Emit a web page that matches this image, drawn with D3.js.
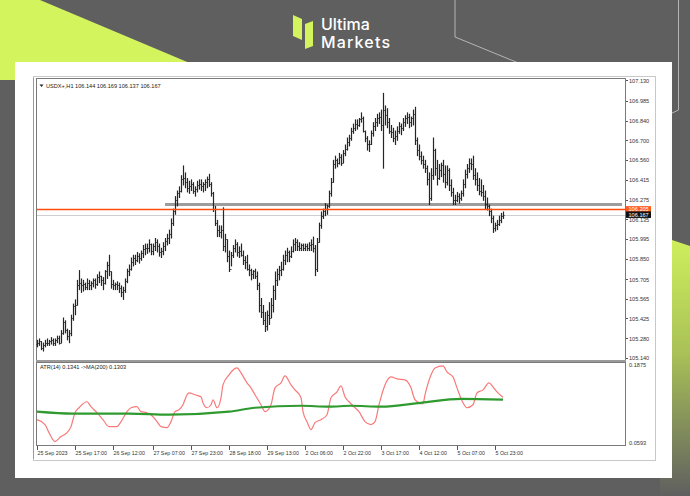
<!DOCTYPE html>
<html><head><meta charset="utf-8">
<script src="https://cdn.jsdelivr.net/npm/d3@7"></script>
<style>
html,body{margin:0;padding:0;background:#5f5f5f;}
svg{display:block;}
</style></head><body>
<svg id="c" width="690" height="496"></svg>
<script>
// ---- data: USDX H1 bars (open of each bar = previous close) ----
const firstOpen = 105.24;
const highs = [105.27,105.28,105.26,105.25,105.27,105.28,105.27,105.29,105.28,105.28,105.30,105.30,105.34,105.43,105.41,105.35,105.34,105.45,105.53,105.56,
105.70,105.77,105.71,105.70,105.68,105.71,105.70,105.69,105.71,105.71,105.74,105.76,105.73,105.72,105.77,105.83,105.88,105.76,105.70,105.68,
105.69,105.68,105.66,105.65,105.71,105.78,105.81,105.86,105.88,105.88,105.90,105.89,105.91,105.95,105.96,105.96,105.99,105.96,105.96,106.00,
105.99,105.96,105.93,105.97,106.00,106.03,106.06,106.14,106.21,106.30,106.34,106.37,106.45,106.52,106.47,106.43,106.41,106.42,106.40,106.37,
106.41,106.42,106.42,106.40,106.42,106.44,106.46,106.40,106.33,106.23,106.13,106.09,106.09,106.22,106.03,105.99,105.91,105.90,105.95,105.99,
105.97,105.94,105.96,105.91,105.87,105.88,105.81,105.78,105.77,105.78,105.76,105.68,105.57,105.52,105.47,105.48,105.54,105.57,105.66,105.76,
105.78,105.80,105.83,105.88,105.91,105.93,105.91,105.94,105.99,106.00,105.99,105.97,105.96,105.96,105.96,105.96,105.97,105.99,106.01,105.95,
106.00,106.11,106.19,106.21,106.25,106.24,106.34,106.43,106.56,106.59,106.57,106.61,106.60,106.63,106.67,106.72,106.74,106.79,106.82,106.85,
106.85,106.86,106.90,106.87,106.77,106.73,106.70,106.77,106.83,106.86,106.89,106.90,106.92,107.04,106.95,106.93,106.86,106.81,106.79,106.77,
106.80,106.83,106.82,106.86,106.88,106.90,106.89,106.87,106.92,106.94,106.72,106.67,106.62,106.59,106.56,106.52,106.47,106.50,106.72,106.64,
106.56,106.53,106.54,106.56,106.52,106.52,106.50,106.42,106.36,106.31,106.33,106.32,106.34,106.42,106.49,106.53,106.57,106.57,106.59,106.50,
106.47,106.43,106.42,106.38,106.34,106.29,106.24,106.21,106.16,106.11,106.13,106.16,106.18,106.19];
const lows = [105.22,105.23,105.20,105.19,105.22,105.23,105.23,105.24,105.23,105.23,105.25,105.24,105.25,105.31,105.32,105.27,105.25,105.30,105.41,105.45,
105.52,105.63,105.61,105.62,105.63,105.63,105.63,105.63,105.65,105.64,105.66,105.68,105.66,105.63,105.67,105.71,105.73,105.64,105.63,105.63,
105.63,105.61,105.58,105.56,105.61,105.68,105.73,105.77,105.80,105.81,105.83,105.82,105.84,105.86,105.88,105.89,105.90,105.88,105.88,105.91,
105.90,105.87,105.86,105.88,105.91,105.95,105.96,106.00,106.09,106.17,106.23,106.29,106.33,106.38,106.36,106.33,106.32,106.34,106.32,106.30,
106.33,106.35,106.34,106.33,106.34,106.36,106.37,106.30,106.19,106.09,106.01,106.01,106.00,105.91,105.90,105.83,105.76,105.80,105.86,105.90,
105.87,105.86,105.87,105.81,105.78,105.77,105.73,105.70,105.71,105.71,105.63,105.47,105.43,105.38,105.33,105.34,105.38,105.43,105.47,105.56,
105.66,105.70,105.73,105.77,105.81,105.83,105.83,105.86,105.90,105.91,105.91,105.91,105.91,105.91,105.91,105.91,105.91,105.91,105.90,105.73,
105.76,105.97,106.07,106.14,106.16,106.17,106.22,106.30,106.40,106.50,106.51,106.53,106.52,106.54,106.59,106.63,106.66,106.70,106.75,106.77,
106.78,106.80,106.83,106.76,106.69,106.63,106.62,106.67,106.73,106.77,106.80,106.82,106.77,106.50,106.81,106.79,106.75,106.72,106.69,106.67,
106.70,106.75,106.74,106.77,106.80,106.82,106.79,106.80,106.81,106.67,106.59,106.56,106.53,106.50,106.47,106.38,106.24,106.27,106.42,106.45,
106.38,106.42,106.44,106.40,106.36,106.38,106.34,106.30,106.24,106.24,106.26,106.25,106.27,106.30,106.36,106.43,106.47,106.49,106.42,106.38,
106.34,106.31,106.30,106.27,106.21,106.20,106.16,106.11,106.04,106.05,106.06,106.09,106.11,106.14];
const closes = [105.25,105.26,105.21,105.23,105.25,105.25,105.26,105.27,105.25,105.27,105.28,105.25,105.32,105.40,105.34,105.30,105.32,105.43,105.51,105.52,
105.66,105.68,105.66,105.67,105.65,105.68,105.66,105.68,105.70,105.67,105.72,105.73,105.70,105.68,105.76,105.81,105.76,105.67,105.66,105.67,
105.66,105.64,105.61,105.63,105.69,105.76,105.78,105.83,105.86,105.84,105.87,105.86,105.89,105.92,105.93,105.93,105.96,105.91,105.94,105.97,
105.94,105.90,105.91,105.94,105.98,106.00,106.03,106.11,106.19,106.27,106.32,106.34,106.42,106.43,106.40,106.36,106.37,106.39,106.34,106.35,
106.38,106.39,106.37,106.39,106.40,106.42,106.39,106.32,106.21,106.11,106.06,106.04,106.06,105.94,105.99,105.87,105.78,105.88,105.93,105.96,
105.90,105.91,105.88,105.84,105.83,105.78,105.77,105.74,105.76,105.73,105.66,105.52,105.47,105.41,105.37,105.45,105.43,105.52,105.63,105.70,
105.74,105.77,105.78,105.84,105.88,105.90,105.87,105.91,105.96,105.97,105.94,105.93,105.95,105.93,105.94,105.93,105.95,105.96,105.93,105.78,
105.97,106.09,106.16,106.19,106.21,106.23,106.32,106.40,106.53,106.56,106.54,106.58,106.54,106.61,106.64,106.69,106.72,106.77,106.79,106.82,
106.81,106.85,106.86,106.77,106.72,106.67,106.67,106.75,106.80,106.83,106.86,106.87,106.81,106.92,106.88,106.83,106.77,106.76,106.72,106.73,
106.77,106.80,106.79,106.83,106.86,106.87,106.83,106.86,106.89,106.70,106.63,106.59,106.56,106.53,106.50,106.42,106.29,106.45,106.63,106.50,
106.43,106.49,106.52,106.46,106.40,106.49,106.38,106.33,106.27,106.27,106.30,106.29,106.32,106.39,106.46,106.50,106.54,106.53,106.45,106.42,
106.38,106.34,106.33,106.30,106.24,106.23,106.19,106.14,106.07,106.09,106.10,106.13,106.16,106.167];

const priceTicks = [107.130,106.985,106.840,106.700,106.560,106.415,106.275,106.135,105.995,105.850,105.705,105.565,105.425,105.280,105.140];
const timeLabels = ["25 Sep 2023","25 Sep 17:00","26 Sep 12:00","27 Sep 07:00","27 Sep 23:00","28 Sep 18:00","29 Sep 13:00","2 Oct 06:00","2 Oct 22:00","3 Oct 17:00","4 Oct 12:00","5 Oct 07:00","5 Oct 23:00"];
const timeLabelBars = [0,19,38,58,77,96,115,134,153,172,191,210,229];

// horizontal levels
const supportLevel = 106.240;
const askLevel = 106.205;
const bidLevel = 106.167;
const supportStartBar = 64;

// ATR(14) and its MA(200), read at selected bars
const atrBars = [0,4,6,9,12,15,17,19,21,25,27,30,33,36,40,42,45,47,50,52,55,57,60,62,65,67,69,71,73,75,76,79,82,83,85,87,88,90,92,93,96,98,100,102,105,107,109,112,114,117,119,122,124,127,129,132,133,135,137,139,142,145,147,150,152,154,156,159,161,164,167,169,171,174,177,180,184,187,189,193,194,197,199,203,205,208,210,213,215,218,220,223,226,228,230,233];
const atrValues = [0.0971,0.0889,0.0757,0.0609,0.0692,0.0757,0.0856,0.1086,0.1168,0.1267,0.1185,0.1086,0.0971,0.0856,0.0856,0.0938,0.1103,0.1168,0.1185,0.1103,0.1086,0.1053,0.0938,0.0856,0.0840,0.0938,0.1103,0.1135,0.1218,0.1382,0.1415,0.1382,0.1349,0.1250,0.1168,0.1218,0.1300,0.1168,0.1333,0.1546,0.1711,0.1793,0.1826,0.1744,0.1579,0.1497,0.1382,0.1218,0.1103,0.1218,0.1497,0.1579,0.1694,0.1546,0.1464,0.1333,0.1103,0.0938,0.0807,0.0921,0.0971,0.1053,0.1333,0.1431,0.1530,0.1349,0.1267,0.1168,0.1103,0.0938,0.0889,0.0938,0.1218,0.1546,0.1678,0.1645,0.1628,0.1497,0.1300,0.1234,0.1382,0.1711,0.1826,0.1859,0.1760,0.1678,0.1497,0.1250,0.1168,0.1218,0.1415,0.1464,0.1579,0.1513,0.1431,0.1341];
const maBars = [0,18,46,66,96,109,132,146,157,172,192,212,233];
const maValues = [0.1103,0.1070,0.1070,0.1053,0.1103,0.1168,0.1201,0.1185,0.1201,0.1185,0.1250,0.1316,0.1303];
const atrRange = [0.0593, 0.1875];

// ---- drawing ----
const svg = d3.select("#c");
const lime = "#d3f45c";
const font = "'Liberation Sans', Arial, sans-serif";
const small = 5.6;

// background decoration
const defs = svg.append("defs");
const g1 = defs.append("linearGradient").attr("id","rg").attr("x1",0).attr("y1",0).attr("x2",0).attr("y2",1);
g1.append("stop").attr("offset","0%").attr("stop-color","#d0f05c");
g1.append("stop").attr("offset","45%").attr("stop-color","#a9c157");
g1.append("stop").attr("offset","100%").attr("stop-color","#5f5f5f");
svg.append("rect").attr("width",690).attr("height",496).attr("fill","#5f5f5f");
svg.append("polygon").attr("points","0,0 40,0 230,80 0,80").attr("fill",lime);
svg.append("polygon").attr("points","660,236 690,246 690,496 660,496").attr("fill","url(#rg)");
svg.append("path").attr("d","M455,0 V37 L560,80").attr("fill","none").attr("stroke","#b5b5b5").attr("stroke-width",1);
svg.append("path").attr("d","M678.5,0 V110 L666,116").attr("fill","none").attr("stroke","#b5b5b5").attr("stroke-width",1);

// logo
svg.append("polygon").attr("points","293,15 302,19 302,40 293,36").attr("fill",lime);
svg.append("polygon").attr("points","305,24 313,21 313,46 305,49").attr("fill",lime);
svg.append("text").attr("x",321).attr("y",30).attr("fill","#fff").attr("font-family","Inter, Roboto, sans-serif").attr("font-weight",500).attr("font-size",16).text("Ultima");
svg.append("text").attr("x",321).attr("y",47.5).attr("fill","#fff").attr("font-family","Inter, Roboto, sans-serif").attr("font-weight",500).attr("font-size",16).attr("textLength",69).text("Markets");

// white card
svg.append("rect").attr("x",15).attr("y",62).attr("width",657).attr("height",416).attr("fill","#fff");

// chart window frame
const frame = {l:33, t:76, r:655, b:460};
svg.append("rect").attr("x",frame.l+0.5).attr("y",frame.t+0.5).attr("width",frame.r-frame.l).attr("height",frame.b-frame.t).attr("fill","#fff").attr("stroke","#c8c8c8");

const plotL = 36, plotR = 625;
const mainT = 78, mainB = 360, subT = 362, subB = 445;

// scales
const x = d3.scaleLinear().domain([0, 233]).range([37, 503]);
const y = d3.scaleLinear().domain([105.140, 107.130]).range([358, 80.3]);
const ya = d3.scaleLinear().domain(atrRange).range([442.5, 365]);

// panel borders
svg.append("rect").attr("x",plotL+0.5).attr("y",mainT+0.5).attr("width",plotR-plotL).attr("height",mainB-mainT).attr("fill","none").attr("stroke","#7a7a7a");
svg.append("rect").attr("x",plotL+0.5).attr("y",subT+0.5).attr("width",plotR-plotL).attr("height",subB-subT).attr("fill","none").attr("stroke","#7a7a7a");
svg.append("line").attr("x1",plotL).attr("x2",plotR+1).attr("y1",361).attr("y2",361).attr("stroke","#9a9a9a").attr("stroke-width",2);
svg.append("line").attr("x1",plotL-2.5).attr("x2",plotL-2.5).attr("y1",mainT).attr("y2",subB+14).attr("stroke","#9a9a9a");

// header texts
svg.append("path").attr("d","M39.5,84.5 h4 l-2,2.5 z").attr("fill","#222");
svg.append("text").attr("x",46).attr("y",87.5).attr("font-family",font).attr("font-size",small).attr("fill","#222")
  .text("USDX+,H1  106.144 106.169 106.137 106.167");
svg.append("text").attr("x",40).attr("y",369).attr("font-family",font).attr("font-size",small).attr("fill","#222")
  .text("ATR(14) 0.1341  ->MA(200) 0.1303");

// bid line and levels
svg.append("line").attr("x1",plotL+1).attr("x2",plotR).attr("y1",Math.round(y(bidLevel))+0.5).attr("y2",Math.round(y(bidLevel))+0.5).attr("stroke","#cfcfcf");
svg.append("line").attr("x1",x(supportStartBar)).attr("x2",plotR-3).attr("y1",y(supportLevel)).attr("y2",y(supportLevel)).attr("stroke","#9d9d9d").attr("stroke-width",3);

// OHLC bars
const bars = closes.map((c,i)=>({i, o: i===0 ? firstOpen : closes[i-1], h: highs[i], l: lows[i], c}));
const gb = svg.append("g").attr("stroke","#262626").attr("stroke-width",1.2);
bars.forEach(b=>{
  const bx = Math.round(x(b.i)) + 0.5;
  gb.append("line").attr("x1",bx).attr("x2",bx).attr("y1",y(b.h)).attr("y2",y(b.l)+0.5);
  gb.append("line").attr("x1",bx-1).attr("x2",bx).attr("y1",Math.round(y(b.o))+0.5).attr("y2",Math.round(y(b.o))+0.5).attr("stroke-width",1);
  gb.append("line").attr("x1",bx).attr("x2",bx+1).attr("y1",Math.round(y(b.c))+0.5).attr("y2",Math.round(y(b.c))+0.5).attr("stroke-width",1);
});

// ask line drawn over the bars
svg.append("line").attr("x1",plotL+1).attr("x2",plotR).attr("y1",Math.round(y(askLevel))+0.5).attr("y2",Math.round(y(askLevel))+0.5).attr("stroke","#ff4d0d").attr("stroke-width",1.3);

// price axis
const ax = svg.append("g").attr("font-family",font).attr("font-size",small).attr("fill","#333");
priceTicks.forEach(p=>{
  const py = y(p);
  svg.append("line").attr("x1",plotR+1).attr("x2",plotR+3).attr("y1",Math.round(py)+0.5).attr("y2",Math.round(py)+0.5).attr("stroke","#555");
  ax.append("text").attr("x",629).attr("y",py+2.4).text(p.toFixed(3));
});
// price tags
const tag = (p, fill, h) => {
  const py = y(p);
  svg.append("rect").attr("x",626).attr("y",py-h/2).attr("width",25).attr("height",h).attr("fill",fill);
  svg.append("text").attr("x",628.5).attr("y",py+2).attr("font-family",font).attr("font-size",small).attr("fill","#fff").text(p.toFixed(3));
};
tag(askLevel, "#ff5a1f", 6.5);
tag(bidLevel, "#111", 6.5);

// ATR panel
const lineAtr = d3.line().x((d,k)=>x(atrBars[k])).y(d=>ya(d)).curve(d3.curveMonotoneX);
const lineMa = d3.line().x((d,k)=>x(maBars[k])).y(d=>ya(d)).curve(d3.curveMonotoneX);
svg.append("path").attr("d",lineAtr(atrValues)).attr("fill","none").attr("stroke","#f77a7a").attr("stroke-width",1.2);
svg.append("path").attr("d",lineMa(maValues)).attr("fill","none").attr("stroke","#2f9a2f").attr("stroke-width",2.2);
ax.append("text").attr("x",629).attr("y",ya(atrRange[1])+2).text(atrRange[1].toFixed(4));
ax.append("text").attr("x",629).attr("y",ya(atrRange[0])+2).text(atrRange[0].toFixed(4));

// time axis
const tg = svg.append("g").attr("font-family",font).attr("font-size",5.3).attr("fill","#333");
timeLabelBars.forEach((b,k)=>{
  const tx = Math.round(x(b)) + 0.5;
  svg.append("line").attr("x1",tx).attr("x2",tx).attr("y1",subB+1).attr("y2",subB+5).attr("stroke","#555");
  tg.append("text").attr("x",tx).attr("y",455).text(timeLabels[k]);
});
</script>
</body></html>
